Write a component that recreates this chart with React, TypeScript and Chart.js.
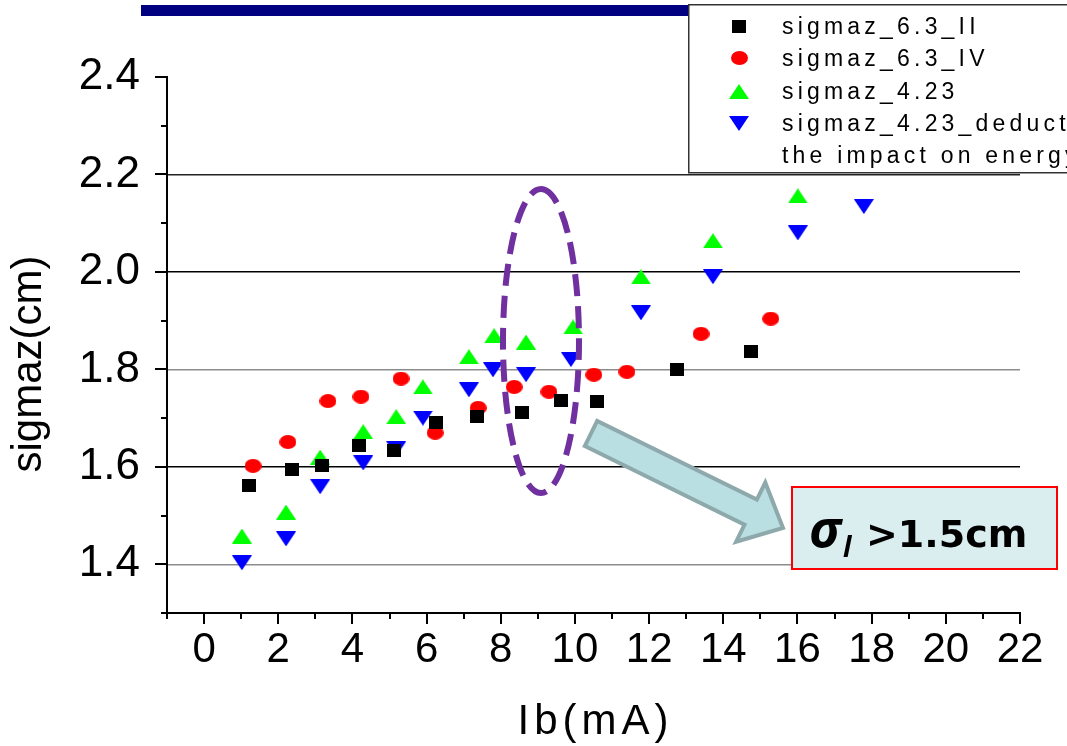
import React, { useEffect, useRef } from 'react';
import { Chart, registerables } from 'chart.js';

Chart.register(...registerables);

// ---- data (Ib in mA, sigmaz in cm) ----
const IB_63_II = [1.21, 2.37, 3.18, 4.18, 5.12, 6.25, 7.36, 8.57, 9.62, 10.59, 12.75, 14.74];
const SIG_63_II = [1.561, 1.594, 1.602, 1.643, 1.634, 1.691, 1.704, 1.711, 1.736, 1.735, 1.799, 1.836];

const IB_63_IV = [1.32, 2.26, 3.34, 4.23, 5.31, 6.23, 7.39, 8.36, 9.3, 10.51, 11.4, 13.4, 15.28];
const SIG_63_IV = [1.602, 1.651, 1.735, 1.744, 1.781, 1.67, 1.721, 1.764, 1.754, 1.789, 1.795, 1.873, 1.904];

const IB_423 = [1.02, 2.21, 3.13, 4.29, 5.18, 5.9, 7.14, 7.82, 8.68, 9.95, 11.78, 13.72, 16.01];
const SIG_423 = [1.458, 1.507, 1.62, 1.672, 1.703, 1.764, 1.826, 1.869, 1.856, 1.887, 1.99, 2.064, 2.156];

const IB_423_DED = [1.02, 2.21, 3.13, 4.29, 5.18, 5.9, 7.14, 7.79, 8.68, 9.89, 11.78, 13.72, 16.01, 17.79];
const SIG_423_DED = [1.403, 1.452, 1.559, 1.608, 1.637, 1.7, 1.758, 1.799, 1.789, 1.82, 1.916, 1.99, 2.08, 2.134];

const SERIES_LABELS = ['sigmaz_6.3_II', 'sigmaz_6.3_IV', 'sigmaz_4.23', 'sigmaz_4.23_deducting the impact on energy'];
const LEGEND_LINES = ['sigmaz_6.3_II', 'sigmaz_6.3_IV', 'sigmaz_4.23', 'sigmaz_4.23_deducting', 'the impact on energy'];

const X_TICKS = [0, 2, 4, 6, 8, 10, 12, 14, 16, 18, 20, 22];
const Y_TICKS = [1.4, 1.6, 1.8, 2.0, 2.2, 2.4];
const X_MIN = -1, X_MAX = 22, Y_MIN = 1.3, Y_MAX = 2.4;

const X_TITLE = 'Ib(mA)';
const Y_TITLE = 'sigmaz(cm)';
const NOTE_SIGMA = 'σ';
const NOTE_SUB = 'l';
const NOTE_REST = '>1.5cm';

// ---- styles ----
const SANS = '"Liberation Sans", Arial, sans-serif';
const GRID_COLORS: Record<string, string> = {
  '1.4': '#8c8c8c', '1.6': '#000000', '1.8': '#8c8c8c', '2.0': '#000000', '2.2': '#222222', '2.4': 'rgba(0,0,0,0)',
};

function makeMarker(shape: string, color: string, w: number, h: number): HTMLCanvasElement {
  const c = document.createElement('canvas');
  c.width = w; c.height = h;
  const g = c.getContext('2d')!;
  g.fillStyle = color;
  g.beginPath();
  if (shape === 'square') {
    g.rect(0, 0, w, h);
  } else if (shape === 'ellipse') {
    g.ellipse(w / 2, h / 2, w / 2, h / 2, 0, 0, Math.PI * 2);
  } else if (shape === 'up') {
    g.moveTo(w / 2, 0); g.lineTo(w, h); g.lineTo(0, h); g.closePath();
  } else {
    g.moveTo(0, 0); g.lineTo(w, 0); g.lineTo(w / 2, h); g.closePath();
  }
  g.fill();
  return c;
}

export default function App() {
  const ref = useRef<HTMLCanvasElement>(null);

  useEffect(() => {
    const canvas = ref.current!;
    const markers = [
      makeMarker('square', '#000000', 14, 13),
      makeMarker('ellipse', '#ff0000', 17, 14),
      makeMarker('up', '#00ff00', 20, 15),
      makeMarker('down', '#0000ff', 20, 15),
    ];
    const pts = (xs: number[], ys: number[]) => xs.map((x, i) => ({ x, y: ys[i] }));

    const decor = {
      id: 'decor',
      afterDraw(chart: any) {
        const ctx: CanvasRenderingContext2D = chart.ctx;
        const xs = chart.scales.x, ys = chart.scales.y;
        const { left, right, bottom } = chart.chartArea;
        ctx.save();
        // tick marks
        ctx.strokeStyle = '#000'; ctx.lineWidth = 2;
        ctx.beginPath();
        for (let i = 13; i <= 24; i++) {
          const py = Math.round(ys.getPixelForValue(i / 10));
          const len = i % 2 === 0 ? 12 : 6;
          ctx.moveTo(left - len, py); ctx.lineTo(left, py);
        }
        for (let v = X_MIN; v <= X_MAX; v++) {
          const px = Math.round(xs.getPixelForValue(v));
          const len = v % 2 === 0 ? 11 : 6;
          ctx.moveTo(px, bottom); ctx.lineTo(px, bottom + len);
        }
        ctx.stroke();

        // axis titles
        ctx.fillStyle = '#000';
        ctx.font = '42px ' + SANS;
        (ctx as any).letterSpacing = '5px';
        ctx.textAlign = 'center'; ctx.textBaseline = 'alphabetic';
        ctx.fillText(X_TITLE, (left + right) / 2 + 2, 734);
        (ctx as any).letterSpacing = '0px';
        ctx.save();
        ctx.translate(41, 364);
        ctx.rotate(-Math.PI / 2);
        ctx.fillText(Y_TITLE, 0, 0);
        ctx.restore();

        // navy bar at top
        ctx.fillStyle = '#000080';
        ctx.fillRect(141, 5, 548, 11);

        // legend
        ctx.fillStyle = '#ffffff';
        ctx.fillRect(688, 4, 400, 169);
        ctx.strokeStyle = '#333'; ctx.lineWidth = 1.5;
        ctx.strokeRect(688.75, 4.75, 400, 168);
        const rowBase = [34, 66, 99, 131, 163];
        markers.forEach((m, i) => {
          ctx.drawImage(m, Math.round(739 - m.width / 2), Math.round(rowBase[i] - 8 - m.height / 2));
        });
        ctx.fillStyle = '#000';
        ctx.font = '23px ' + SANS;
        (ctx as any).letterSpacing = '4.2px';
        ctx.textAlign = 'left'; ctx.textBaseline = 'alphabetic';
        LEGEND_LINES.forEach((t, i) => ctx.fillText(t, 782, rowBase[i]));
        (ctx as any).letterSpacing = '0px';

        // dashed ellipse
        ctx.strokeStyle = '#7030A0'; ctx.lineWidth = 6;
        ctx.setLineDash([22, 10]);
        ctx.beginPath();
        ctx.ellipse(541, 341, 38, 152, 0, -Math.PI / 2, Math.PI * 1.5);
        ctx.stroke();
        ctx.setLineDash([]);

        // arrow
        const tx = 591, ty = 433.5, hx = 783, hy = 528;
        const dx = hx - tx, dy = hy - ty, L = Math.hypot(dx, dy);
        const ux = dx / L, uy = dy / L, nx = -uy, ny = ux;
        const sw = 14, hw = 33, hl = 36;
        const bx = hx - ux * hl, by = hy - uy * hl;
        ctx.beginPath();
        ctx.moveTo(tx + nx * sw, ty + ny * sw);
        ctx.lineTo(bx + nx * sw, by + ny * sw);
        ctx.lineTo(bx + nx * hw, by + ny * hw);
        ctx.lineTo(hx, hy);
        ctx.lineTo(bx - nx * hw, by - ny * hw);
        ctx.lineTo(bx - nx * sw, by - ny * sw);
        ctx.lineTo(tx - nx * sw, ty - ny * sw);
        ctx.closePath();
        ctx.fillStyle = '#B9DFE2';
        ctx.fill();
        ctx.strokeStyle = '#8EA9AB'; ctx.lineWidth = 4; ctx.lineJoin = 'miter';
        ctx.stroke();

        // note box
        ctx.fillStyle = '#DAEEF0';
        ctx.fillRect(791, 486, 267, 84);
        ctx.strokeStyle = '#ff0000'; ctx.lineWidth = 2;
        ctx.strokeRect(792, 487, 265, 82);
        ctx.fillStyle = '#000';
        ctx.textAlign = 'left'; ctx.textBaseline = 'alphabetic';
        ctx.font = 'italic bold 52px "Open Sans", sans-serif';
        ctx.fillText(NOTE_SIGMA, 809, 547);
        ctx.font = 'italic bold 28px "Open Sans", sans-serif';
        ctx.fillText(NOTE_SUB, 843, 557);
        ctx.font = 'bold 38px "DejaVu Sans", sans-serif';
        ctx.fillText(NOTE_REST, 866, 547);
        ctx.restore();
      },
    };

    const chart = new Chart(canvas, {
      type: 'scatter',
      data: {
        datasets: [
          { label: SERIES_LABELS[0], data: pts(IB_63_II, SIG_63_II), pointStyle: markers[0] as any, pointRadius: 8 },
          { label: SERIES_LABELS[1], data: pts(IB_63_IV, SIG_63_IV), pointStyle: markers[1] as any, pointRadius: 8 },
          { label: SERIES_LABELS[2], data: pts(IB_423, SIG_423), pointStyle: markers[2] as any, pointRadius: 8 },
          { label: SERIES_LABELS[3], data: pts(IB_423_DED, SIG_423_DED), pointStyle: markers[3] as any, pointRadius: 8 },
        ],
      },
      options: {
        animation: false,
        responsive: false,
        layout: { padding: { left: 0, right: 47, top: 77, bottom: 0 } },
        plugins: { legend: { display: false }, tooltip: { enabled: false } },
        scales: {
          x: {
            type: 'linear', min: X_MIN, max: X_MAX,
            afterBuildTicks: (s: any) => { s.ticks = X_TICKS.map((v) => ({ value: v })); },
            afterFit: (s: any) => { s.height = 133; },
            grid: { display: false, drawTicks: false },
            border: { display: true, color: '#000', width: 2 },
            ticks: {
              color: '#000', padding: 12, maxRotation: 0, autoSkip: false,
              font: { family: SANS, size: 42 },
              callback: (v: any) => String(v),
            },
          },
          y: {
            type: 'linear', min: Y_MIN, max: Y_MAX,
            afterBuildTicks: (s: any) => { s.ticks = Y_TICKS.map((v) => ({ value: v })); },
            afterFit: (s: any) => { s.width = 167; },
            grid: {
              drawTicks: false, lineWidth: 1.5,
              color: (c: any) => GRID_COLORS[Number(c.tick?.value).toFixed(1)] || 'rgba(0,0,0,0)',
            },
            border: { display: true, color: '#000', width: 2 },
            ticks: {
              color: '#000', padding: 27, autoSkip: false,
              font: { family: SANS, size: 44 },
              callback: (v: any) => Number(v).toFixed(1),
            },
          },
        },
      },
      plugins: [decor],
    });
    return () => chart.destroy();
  }, []);

  return (
    <div style={{ position: 'fixed', left: 0, top: 0, width: 1067, height: 746, background: '#fff' }}>
      <canvas ref={ref} width={1067} height={746} style={{ display: 'block' }} />
    </div>
  );
}
